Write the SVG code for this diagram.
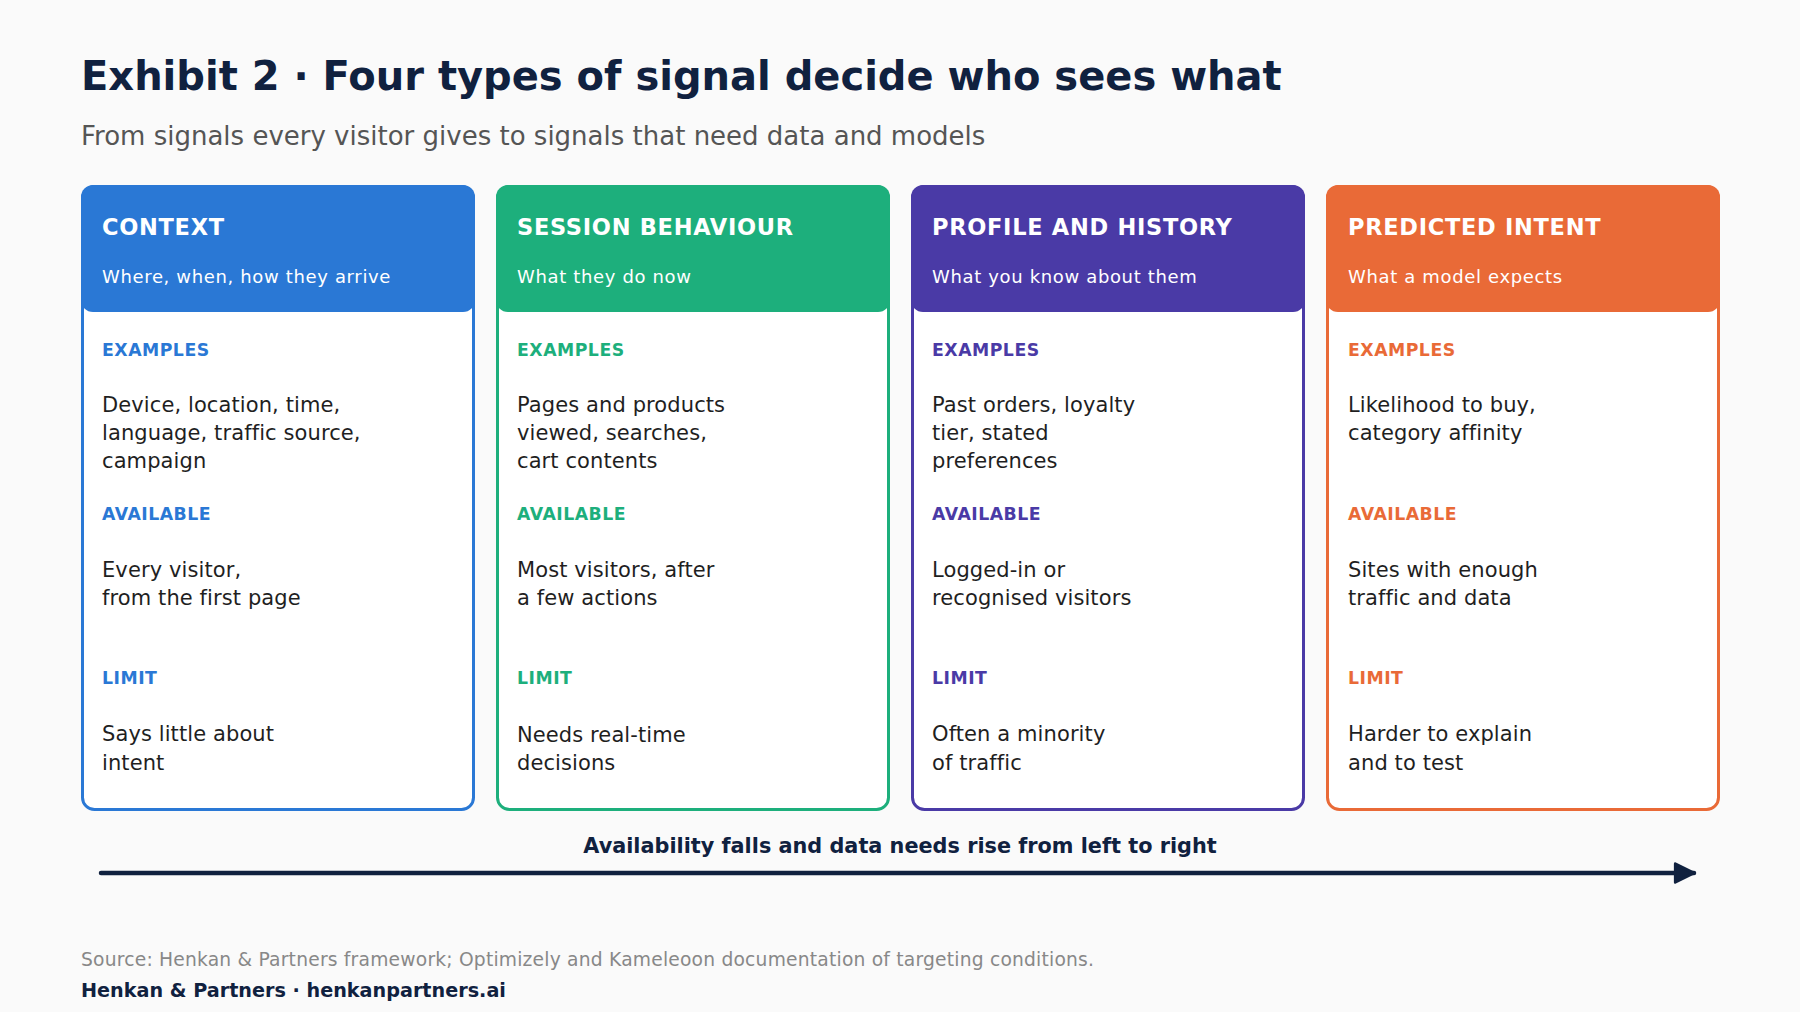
<svg xmlns="http://www.w3.org/2000/svg" width="1800" height="1012" viewBox="0 0 1800 1012">
<defs>
<style>
text{font-family:"DejaVu Sans","Verdana",sans-serif}
.title{font-size:40px;font-weight:bold;fill:#10213F}
.sub{font-size:26px;fill:#555555}
.h{font-size:22.5px;font-weight:bold;fill:#ffffff;letter-spacing:0.7px}
.hs{font-size:18px;fill:#ffffff;letter-spacing:0.65px}
.lab{font-size:17.3px;font-weight:bold;letter-spacing:0.5px}
.body{font-size:21px;fill:#1f1f1f;letter-spacing:0.1px}
.card{fill:#ffffff;stroke-width:3}
.axis{font-size:20.8px;font-weight:bold;fill:#10213F}
.src{font-size:18.7px;fill:#888888;letter-spacing:0.2px}
.foot{font-size:19.2px;font-weight:bold;fill:#10213F}
</style>
<marker id="arr" viewBox="0 0 10 10" refX="9" refY="5" markerWidth="5.2" markerHeight="5.2" orient="auto" markerUnits="strokeWidth">
<path d="M1,1 L9,5 L1,9 Z" fill="#10213F" stroke="#10213F" stroke-width="1.2" stroke-linejoin="round"/>
</marker>
</defs>
<rect width="1800" height="1012" fill="#FAFAFA"/>
<text class="title" x="81" y="90">Exhibit 2 · Four types of signal decide who sees what</text>
<text class="sub" x="81" y="145">From signals every visitor gives to signals that need data and models</text>

<g id="card-context">
<rect class="card" x="82.5" y="186.5" width="391" height="623" rx="12" stroke="#2A78D5"/>
<rect x="81" y="185" width="394" height="127" rx="12" fill="#2A78D5"/>
<text class="h" x="102" y="235">CONTEXT</text>
<text class="hs" x="102" y="283">Where, when, how they arrive</text>
<text class="lab" x="102" y="356" fill="#2A78D5">EXAMPLES</text>
<text class="body" x="102" y="412">Device, location, time,</text>
<text class="body" x="102" y="440">language, traffic source,</text>
<text class="body" x="102" y="468">campaign</text>
<text class="lab" x="102" y="520" fill="#2A78D5">AVAILABLE</text>
<text class="body" x="102" y="577">Every visitor,</text>
<text class="body" x="102" y="605">from the first page</text>
<text class="lab" x="102" y="684" fill="#2A78D5">LIMIT</text>
<text class="body" x="102" y="741">Says little about</text>
<text class="body" x="102" y="770">intent</text>
</g>

<g id="card-session">
<rect class="card" x="497.5" y="186.5" width="391" height="623" rx="12" stroke="#1DAF7C"/>
<rect x="496" y="185" width="394" height="127" rx="12" fill="#1DAF7C"/>
<text class="h" x="517" y="235">SESSION BEHAVIOUR</text>
<text class="hs" x="517" y="283">What they do now</text>
<text class="lab" x="517" y="356" fill="#1DAF7C">EXAMPLES</text>
<text class="body" x="517" y="412">Pages and products</text>
<text class="body" x="517" y="440">viewed, searches,</text>
<text class="body" x="517" y="468">cart contents</text>
<text class="lab" x="517" y="520" fill="#1DAF7C">AVAILABLE</text>
<text class="body" x="517" y="577">Most visitors, after</text>
<text class="body" x="517" y="605">a few actions</text>
<text class="lab" x="517" y="684" fill="#1DAF7C">LIMIT</text>
<text class="body" x="517" y="742">Needs real-time</text>
<text class="body" x="517" y="770">decisions</text>
</g>

<g id="card-profile">
<rect class="card" x="912.5" y="186.5" width="391" height="623" rx="12" stroke="#4A3AA6"/>
<rect x="911" y="185" width="394" height="127" rx="12" fill="#4A3AA6"/>
<text class="h" x="932" y="235">PROFILE AND HISTORY</text>
<text class="hs" x="932" y="283">What you know about them</text>
<text class="lab" x="932" y="356" fill="#4A3AA6">EXAMPLES</text>
<text class="body" x="932" y="412">Past orders, loyalty</text>
<text class="body" x="932" y="440">tier, stated</text>
<text class="body" x="932" y="468">preferences</text>
<text class="lab" x="932" y="520" fill="#4A3AA6">AVAILABLE</text>
<text class="body" x="932" y="577">Logged-in or</text>
<text class="body" x="932" y="605">recognised visitors</text>
<text class="lab" x="932" y="684" fill="#4A3AA6">LIMIT</text>
<text class="body" x="932" y="741">Often a minority</text>
<text class="body" x="932" y="770">of traffic</text>
</g>

<g id="card-intent">
<rect class="card" x="1327.5" y="186.5" width="391" height="623" rx="12" stroke="#E96A37"/>
<rect x="1326" y="185" width="394" height="127" rx="12" fill="#E96A37"/>
<text class="h" x="1348" y="235">PREDICTED INTENT</text>
<text class="hs" x="1348" y="283">What a model expects</text>
<text class="lab" x="1348" y="356" fill="#E96A37">EXAMPLES</text>
<text class="body" x="1348" y="412">Likelihood to buy,</text>
<text class="body" x="1348" y="440">category affinity</text>
<text class="lab" x="1348" y="520" fill="#E96A37">AVAILABLE</text>
<text class="body" x="1348" y="577">Sites with enough</text>
<text class="body" x="1348" y="605">traffic and data</text>
<text class="lab" x="1348" y="684" fill="#E96A37">LIMIT</text>
<text class="body" x="1348" y="741">Harder to explain</text>
<text class="body" x="1348" y="770">and to test</text>
</g>

<g id="connectors">
<line x1="101" y1="873" x2="1694" y2="873" stroke="#10213F" stroke-width="4.5" stroke-linecap="round" marker-end="url(#arr)"/>
</g>
<text class="axis" x="900" y="853" text-anchor="middle">Availability falls and data needs rise from left to right</text>

<text class="src" x="81" y="966">Source: Henkan &amp; Partners framework; Optimizely and Kameleoon documentation of targeting conditions.</text>
<text class="foot" x="81" y="997">Henkan &amp; Partners · henkanpartners.ai</text>
</svg>
